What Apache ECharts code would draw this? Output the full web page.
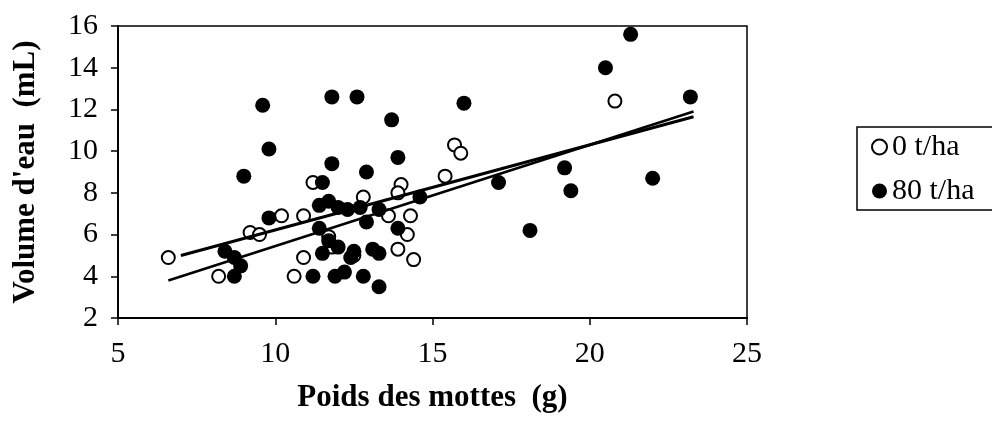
<!DOCTYPE html>
<html>
<head>
<meta charset="utf-8">
<script src="https://cdn.jsdelivr.net/npm/echarts@6/dist/echarts.min.js"></script>
<style>
  html, body { margin: 0; padding: 0; background: #fff; }
  #chart { width: 992px; height: 425px; }
</style>
</head>
<body>
<div id="chart"></div>
<script>
var dom = document.getElementById("chart");
var myChart = echarts.init(dom);

// 0 t/ha (open circles)
var pts0 = [
    [6.6, 4.9], [8.2, 4.0], [9.2, 6.1], [9.5, 6.0], [10.2, 6.9],
    [10.9, 6.9], [10.9, 4.9], [10.6, 4.0], [11.2, 8.5], [11.7, 5.9],
    [11.8, 5.4], [12.5, 5.0], [12.8, 7.8], [13.6, 6.9], [14.0, 8.4],
    [13.9, 8.0], [14.3, 6.9], [14.2, 6.0], [13.9, 5.3], [14.4, 4.8],
    [15.4, 8.8], [15.7, 10.3], [15.9, 9.9], [20.8, 12.4]
];

// 80 t/ha (filled circles)
var pts80 = [
    [8.4, 5.2], [8.7, 4.9], [8.9, 4.5], [8.7, 4.0], [9.0, 8.8],
    [9.6, 12.2], [9.8, 10.1], [9.8, 6.8], [11.5, 8.5], [11.8, 9.4],
    [11.8, 12.6], [12.6, 12.6], [12.9, 9.0], [13.7, 11.5], [13.9, 9.7],
    [16.0, 12.3], [11.4, 7.4], [11.7, 7.6], [12.0, 7.3], [12.3, 7.2],
    [12.7, 7.3], [13.3, 7.2], [14.6, 7.8], [12.9, 6.6], [13.9, 6.3],
    [11.4, 6.3], [11.7, 5.7], [12.0, 5.4], [11.5, 5.1], [12.4, 4.9],
    [12.5, 5.2], [13.1, 5.3], [13.3, 5.1], [11.2, 4.0], [11.9, 4.0],
    [12.2, 4.2], [12.8, 4.0], [13.3, 3.5], [17.1, 8.5], [18.1, 6.2],
    [19.2, 9.2], [19.4, 8.1], [20.5, 14.0], [21.3, 15.6], [22.0, 8.7],
    [23.2, 12.6]
];

// trend lines (end points)
var trend0 = [[6.6, 3.8], [23.3, 11.9]];
var trend80 = [[7.0, 5.0], [23.3, 11.65]];

var serif = "Liberation Serif";

var option = {
    backgroundColor: '#fff',
    animation: false,
    grid: {
        left: 118,
        top: 26,
        right: 245,
        bottom: 107,
        show: true,
        borderColor: '#000',
        borderWidth: 1.5
    },
    legend: {
        orient: 'vertical',
        left: 857,
        top: 127,
        itemGap: 14,
        itemWidth: 15,
        itemHeight: 15,
        padding: [5, 30, 4, 14],
        borderColor: '#000',
        borderWidth: 1.5,
        textStyle: { fontFamily: serif, fontSize: 30, color: '#000' },
        data: ['0 t/ha', '80 t/ha']
    },
    xAxis: {
        type: 'value',
        min: 5,
        max: 25,
        interval: 5,
        name: 'Poids des mottes  (g)',
        nameLocation: 'middle',
        nameGap: 64,
        nameTextStyle: { fontFamily: serif, fontSize: 31, fontWeight: 'bold', color: '#000' },
        axisLine: { lineStyle: { color: '#000', width: 2 } },
        axisTick: { show: true, length: 7, lineStyle: { color: '#000', width: 1.5 } },
        axisLabel: { fontFamily: serif, fontSize: 30, color: '#000', margin: 21 },
        splitLine: { show: false }
    },
    yAxis: {
        type: 'value',
        min: 2,
        max: 16,
        interval: 2,
        name: "Volume d'eau  (mL)",
        nameLocation: 'middle',
        nameGap: 77,
        nameTextStyle: { fontFamily: serif, fontSize: 31, fontWeight: 'bold', color: '#000' },
        axisLine: { lineStyle: { color: '#000', width: 2 } },
        axisTick: { show: true, length: 7, lineStyle: { color: '#000', width: 1.5 } },
        axisLabel: { fontFamily: serif, fontSize: 30, color: '#000', margin: 20 },
        splitLine: { show: false }
    },
    series: [
        {
            name: '0 t/ha',
            type: 'scatter',
            symbol: 'circle',
            symbolSize: 13,
            z: 3,
            itemStyle: { color: '#fff', borderColor: '#000', borderWidth: 2, opacity: 1 },
            data: pts0
        },
        {
            name: '80 t/ha',
            type: 'scatter',
            symbol: 'circle',
            symbolSize: 15,
            z: 4,
            itemStyle: { color: '#000', opacity: 1 },
            data: pts80
        },
        {
            type: 'line',
            data: trend0,
            symbol: 'none',
            z: 5,
            lineStyle: { color: '#000', width: 2.5 }
        },
        {
            type: 'line',
            data: trend80,
            symbol: 'none',
            z: 5,
            lineStyle: { color: '#000', width: 3 }
        }
    ]
};

myChart.setOption(option);
</script>
</body>
</html>
